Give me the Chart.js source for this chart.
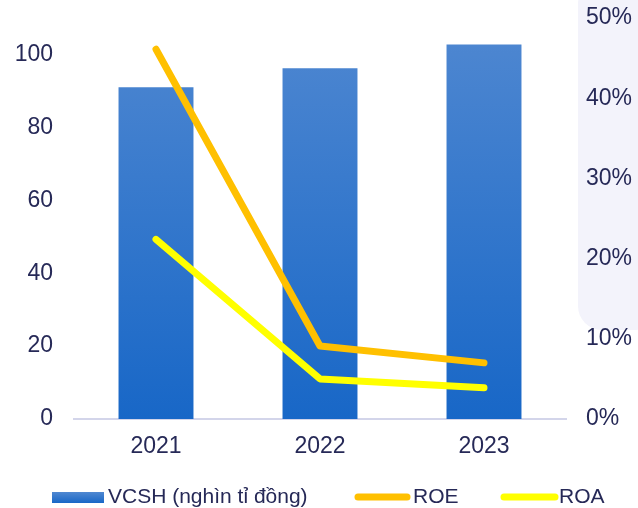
<!DOCTYPE html>
<html>
<head>
<meta charset="utf-8">
<script src="https://cdn.jsdelivr.net/npm/chart.js@4.4.1/dist/chart.umd.min.js"></script>
<style>
html,body{margin:0;padding:0;background:#fff;}
#wrap{width:638px;height:508px;position:relative;}
</style>
</head>
<body>
<div id="wrap"><canvas id="c" width="638" height="508"></canvas></div>
<script>
const categories = ['2021', '2022', '2023'];
const vcsh = [91, 96.2, 102.7];
const roe = [46.1, 9.1, 7.0];
const roa = [22.4, 5.0, 3.9];
const leftTicks = [0, 20, 40, 60, 80, 100];
const rightTicks = [0, 10, 20, 30, 40, 50];
const seriesNames = ['VCSH (nghìn tỉ đồng)', 'ROE', 'ROA'];

const FONT = 'Liberation Sans, Arial, sans-serif';
const TXT = '#262957';
const FS = 23;
const LFS = 21;

function barGradient(ctx, area) {
  const g = ctx.createLinearGradient(0, area.top, 0, area.bottom);
  g.addColorStop(0, '#5088d1');
  g.addColorStop(1, '#1867c7');
  return g;
}

const decoPlugin = {
  id: 'deco',
  beforeDraw(chart) {
    const ctx = chart.ctx;
    ctx.save();
    ctx.fillStyle = '#f3f3fb';
    ctx.beginPath();
    ctx.roundRect(578, -20, 80, 350, 24);
    ctx.fill();
    ctx.restore();
  }
};

const legendPlugin = {
  id: 'customLegend',
  afterDraw(chart) {
    const ctx = chart.ctx;
    const y = 497;
    ctx.save();
    ctx.font = LFS + 'px ' + FONT;
    ctx.textBaseline = 'middle';
    const g = ctx.createLinearGradient(0, 492, 0, 503);
    g.addColorStop(0, '#5088d1');
    g.addColorStop(1, '#1867c7');
    ctx.fillStyle = g;
    ctx.fillRect(52, 492, 52, 11);
    ctx.fillStyle = TXT;
    ctx.fillText(seriesNames[0], 108, y);
    ctx.lineCap = 'round';
    ctx.lineWidth = 7;
    ctx.strokeStyle = chart.data.datasets[1].borderColor;
    ctx.beginPath(); ctx.moveTo(358, y); ctx.lineTo(407, y); ctx.stroke();
    ctx.fillText(seriesNames[1], 413, y);
    ctx.strokeStyle = chart.data.datasets[2].borderColor;
    ctx.beginPath(); ctx.moveTo(504, y); ctx.lineTo(555, y); ctx.stroke();
    ctx.fillText(seriesNames[2], 559, y);
    ctx.restore();
  }
};

new Chart(document.getElementById('c'), {
  data: {
    labels: categories,
    datasets: [
      {
        type: 'bar', label: seriesNames[0], data: vcsh, yAxisID: 'y',
        backgroundColor: (c) => { const a = c.chart.chartArea; return a ? barGradient(c.chart.ctx, a) : '#2f77cc'; },
        barPercentage: 0.457, categoryPercentage: 1.0, order: 3
      },
      {
        type: 'line', label: seriesNames[1], data: roe, yAxisID: 'y1',
        borderColor: '#ffc000', borderWidth: 7, pointRadius: 0, tension: 0,
        borderCapStyle: 'round', borderJoinStyle: 'round', order: 2
      },
      {
        type: 'line', label: seriesNames[2], data: roa, yAxisID: 'y1',
        borderColor: '#ffff00', borderWidth: 7, pointRadius: 0, tension: 0,
        borderCapStyle: 'round', borderJoinStyle: 'round', order: 1
      }
    ]
  },
  options: {
    responsive: false,
    animation: false,
    layout: { padding: { top: 18, bottom: 49, left: 0, right: 0 } },
    plugins: { legend: { display: false }, tooltip: { enabled: false } },
    scales: {
      x: {
        grid: { display: false, drawTicks: false },
        border: { display: true, color: '#d3d5ea', width: 2 },
        ticks: { color: TXT, font: { family: FONT, size: FS }, padding: 14 },
        afterFit(s) { s.height = 40; s.paddingLeft = 0; s.paddingRight = 0; }
      },
      y: {
        position: 'left', min: 0, max: 110,
        afterBuildTicks(s) { s.ticks = leftTicks.map(v => ({ value: v })); },
        grid: { display: false, drawTicks: false },
        border: { display: false },
        ticks: { color: TXT, font: { family: FONT, size: FS }, padding: 21 },
        afterFit(s) { s.width = 74; s.paddingTop = 0; s.paddingBottom = 0; }
      },
      y1: {
        position: 'right', min: 0, max: 50,
        afterBuildTicks(s) { s.ticks = rightTicks.map(v => ({ value: v })); },
        grid: { display: false, drawTicks: false },
        border: { display: false },
        ticks: { color: TXT, font: { family: FONT, size: FS }, padding: 20, callback: v => v + '%' },
        afterFit(s) { s.width = 72; s.paddingTop = 0; s.paddingBottom = 0; }
      }
    }
  },
  plugins: [decoPlugin, legendPlugin]
});
</script>
</body>
</html>
